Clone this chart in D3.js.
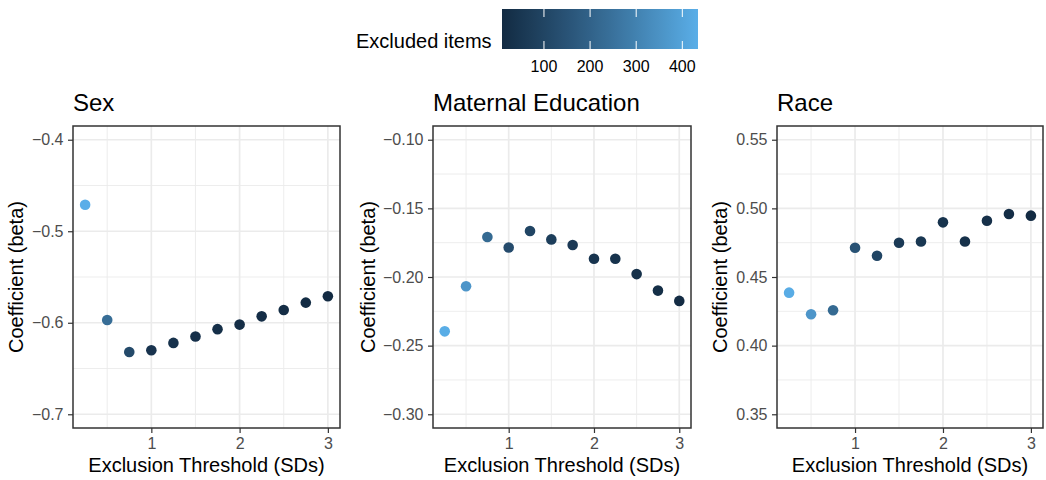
<!DOCTYPE html>
<html>
<head>
<meta charset="utf-8">
<script src="https://cdn.jsdelivr.net/npm/d3@7"></script>
<style>
  body { margin: 0; background: #fff; }
  text { font-family: "Liberation Sans", Arial, Helvetica, sans-serif; }
</style>
</head>
<body>
<div id="chart"></div>
<script>
// exclusion thresholds (SDs), shared by all three panels
var thresholds = [0.25, 0.5, 0.75, 1, 1.25, 1.5, 1.75, 2, 2.25, 2.5, 2.75, 3];

var sexBeta = [-0.471, -0.597, -0.632, -0.630, -0.622, -0.615, -0.607, -0.602, -0.593, -0.586, -0.578, -0.571];
var sexExcluded = [434, 235, 118, 40, 34, 29, 25, 21, 18, 15, 12, 10];

var eduBeta = [-0.2396, -0.2067, -0.1709, -0.1785, -0.1665, -0.1726, -0.1767, -0.1867, -0.1867, -0.1979, -0.2099, -0.2174];
var eduExcluded = [430, 360, 225, 124, 102, 77, 60, 43, 39, 30, 22, 13];

var raceBeta = [0.4386, 0.4229, 0.4258, 0.4713, 0.4655, 0.4750, 0.4759, 0.4898, 0.4759, 0.4910, 0.4959, 0.4947];
var raceExcluded = [428, 360, 225, 145, 102, 64, 52, 39, 30, 26, 17, 9];

var panelTitles = ["Sex", "Maternal Education", "Race"];
var sexTicks = [-0.7, -0.6, -0.5, -0.4];
var eduTicks = [-0.30, -0.25, -0.20, -0.15, -0.10];
var raceTicks = [0.35, 0.40, 0.45, 0.50, 0.55];
var xTicks = [1, 2, 3];
var legendTicks = [100, 200, 300, 400];
var excludedRange = [9, 434];

var W = 1046, H = 480;
var svg = d3.select("#chart").append("svg")
    .attr("width", W)
    .attr("height", H);

svg.append("rect").attr("width", W).attr("height", H).attr("fill", "#fff");

var color = d3.scaleLinear()
    .domain(excludedRange)
    .range(["#132B43", "#5AAEE8"])
    .interpolate(d3.interpolateLab);

// panel layout
var panelTop = 126, panelBottom = 428;
var panels = [
  {title: panelTitles[0], beta: sexBeta, excl: sexExcluded, ticks: sexTicks, fmt: d3.format(".1f"), left: 73, right: 340, yTitleX: 23},
  {title: panelTitles[1], beta: eduBeta, excl: eduExcluded, ticks: eduTicks, fmt: d3.format(".2f"), left: 433, right: 691, yTitleX: 375},
  {title: panelTitles[2], beta: raceBeta, excl: raceExcluded, ticks: raceTicks, fmt: d3.format(".2f"), left: 777, right: 1043, yTitleX: 727}
];

// ggplot style 5% expansion
function expand(lo, hi) {
  var pad = (hi - lo) * 0.05;
  return [lo - pad, hi + pad];
}

var xExt = d3.extent(thresholds);

panels.forEach(function(p) {
  var x = d3.scaleLinear().domain(expand(xExt[0], xExt[1])).range([p.left, p.right]);
  var yExt = d3.extent(p.ticks);
  var y = d3.scaleLinear().domain(expand(yExt[0], yExt[1])).range([panelBottom, panelTop]);

  var g = svg.append("g");

  // minor grid
  var step = p.ticks[1] - p.ticks[0];
  var yMinor = p.ticks.slice(1).map(function(t) { return t - step / 2; });
  var xMinor = [0.5, 1.5, 2.5];
  g.selectAll(".ymin").data(yMinor).enter().append("line")
    .attr("x1", p.left).attr("x2", p.right)
    .attr("y1", function(d) { return y(d); }).attr("y2", function(d) { return y(d); })
    .attr("stroke", "#EBEBEB").attr("stroke-width", 0.9);
  g.selectAll(".xmin").data(xMinor).enter().append("line")
    .attr("y1", panelTop).attr("y2", panelBottom)
    .attr("x1", function(d) { return x(d); }).attr("x2", function(d) { return x(d); })
    .attr("stroke", "#EBEBEB").attr("stroke-width", 0.9);

  // major grid
  g.selectAll(".ymaj").data(p.ticks).enter().append("line")
    .attr("x1", p.left).attr("x2", p.right)
    .attr("y1", function(d) { return y(d); }).attr("y2", function(d) { return y(d); })
    .attr("stroke", "#EBEBEB").attr("stroke-width", 1.7);
  g.selectAll(".xmaj").data(xTicks).enter().append("line")
    .attr("y1", panelTop).attr("y2", panelBottom)
    .attr("x1", function(d) { return x(d); }).attr("x2", function(d) { return x(d); })
    .attr("stroke", "#EBEBEB").attr("stroke-width", 1.7);

  // points
  g.selectAll("circle").data(thresholds).enter().append("circle")
    .attr("cx", function(d) { return x(d); })
    .attr("cy", function(d, i) { return y(p.beta[i]); })
    .attr("r", 5.3)
    .attr("fill", function(d, i) { return color(p.excl[i]); });

  // panel border
  g.append("rect")
    .attr("x", p.left).attr("y", panelTop)
    .attr("width", p.right - p.left).attr("height", panelBottom - panelTop)
    .attr("fill", "none").attr("stroke", "#333333").attr("stroke-width", 1.5);

  // axes
  var xAxis = g.append("g")
    .attr("transform", "translate(0," + panelBottom + ")")
    .call(d3.axisBottom(x).tickValues(xTicks).tickFormat(d3.format("d")).tickSize(5).tickPadding(4.5));
  var yAxis = g.append("g")
    .attr("transform", "translate(" + p.left + ",0)")
    .call(d3.axisLeft(y).tickValues(p.ticks).tickFormat(p.fmt).tickSize(5).tickPadding(4.5));
  [xAxis, yAxis].forEach(function(a) {
    a.select(".domain").remove();
    a.selectAll(".tick line").attr("stroke", "#333333").attr("stroke-width", 1.2);
    a.selectAll(".tick text")
      .attr("fill", "#4D4D4D")
      .style("font-size", "16px")
      .style("font-family", "'Liberation Sans', Arial, sans-serif");
  });

  // titles
  g.append("text")
    .attr("x", p.left).attr("y", 111)
    .style("font-size", "24px")
    .attr("fill", "#000")
    .text(p.title);

  g.append("text")
    .attr("x", (p.left + p.right) / 2).attr("y", 472)
    .attr("text-anchor", "middle")
    .style("font-size", "20px")
    .text("Exclusion Threshold (SDs)");

  g.append("text")
    .attr("transform", "translate(" + p.yTitleX + "," + ((panelTop + panelBottom) / 2) + ") rotate(-90)")
    .attr("text-anchor", "middle")
    .style("font-size", "20px")
    .text("Coefficient (beta)");
});

// colour bar legend
var barX0 = 502, barX1 = 698, barY0 = 9, barY1 = 49;
var lx = d3.scaleLinear().domain(excludedRange).range([barX0, barX1]);

var grad = svg.append("defs").append("linearGradient")
    .attr("id", "excl-grad")
    .attr("x1", "0%").attr("x2", "100%").attr("y1", "0%").attr("y2", "0%");
d3.range(0, 1.0001, 0.05).forEach(function(t) {
  var v = excludedRange[0] + t * (excludedRange[1] - excludedRange[0]);
  grad.append("stop").attr("offset", (t * 100) + "%").attr("stop-color", color(v));
});

svg.append("rect")
  .attr("x", barX0).attr("y", barY0)
  .attr("width", barX1 - barX0).attr("height", barY1 - barY0)
  .attr("fill", "url(#excl-grad)");

var lt = svg.append("g");
lt.selectAll(".tt").data(legendTicks).enter().append("line")
  .attr("x1", function(d) { return lx(d); }).attr("x2", function(d) { return lx(d); })
  .attr("y1", barY0).attr("y2", barY0 + 8)
  .attr("stroke", "#fff").attr("stroke-width", 1);
lt.selectAll(".tb").data(legendTicks).enter().append("line")
  .attr("x1", function(d) { return lx(d); }).attr("x2", function(d) { return lx(d); })
  .attr("y1", barY1 - 8).attr("y2", barY1)
  .attr("stroke", "#fff").attr("stroke-width", 1);
lt.selectAll("text").data(legendTicks).enter().append("text")
  .attr("x", function(d) { return lx(d); })
  .attr("y", 71.5)
  .attr("text-anchor", "middle")
  .style("font-size", "16px")
  .text(function(d) { return d; });

svg.append("text")
  .attr("x", 356).attr("y", 48)
  .style("font-size", "20px")
  .text("Excluded items");
</script>
</body>
</html>
